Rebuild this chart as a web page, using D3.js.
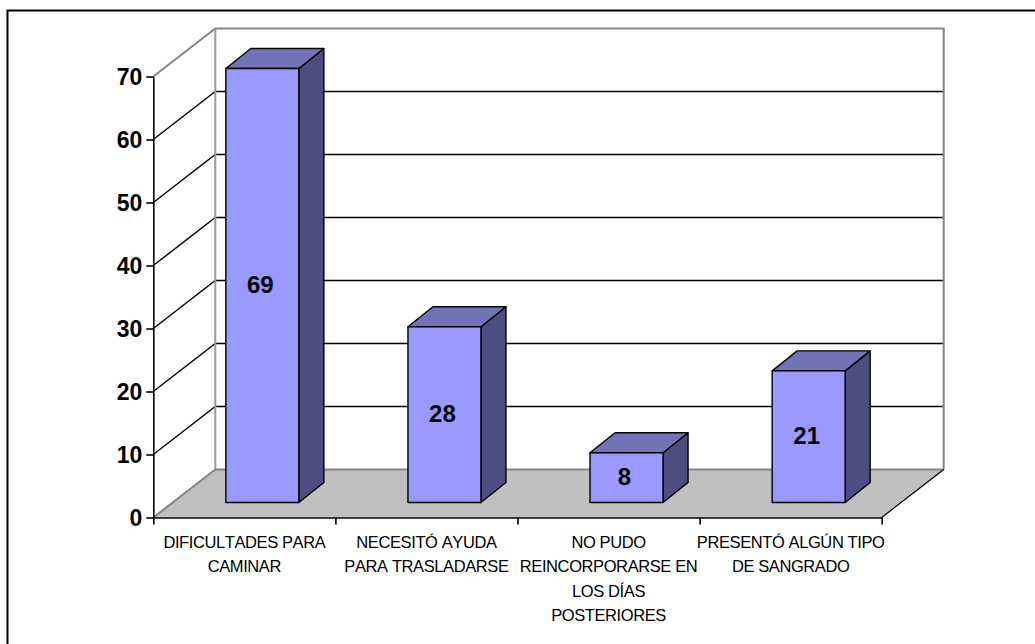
<!DOCTYPE html>
<html>
<head>
<meta charset="utf-8">
<script src="https://cdn.jsdelivr.net/npm/d3@7/dist/d3.min.js"></script>
<style>
html,body{margin:0;padding:0;background:#fff;overflow:hidden}
svg{display:block}
text{font-family:"Liberation Sans",Arial,sans-serif;fill:#000}
</style>
</head>
<body>
<svg id="c" width="1035" height="644"></svg>
<script>
const categories = [
  ["DIFICULTADES PARA","CAMINAR"],
  ["NECESITÓ AYUDA","PARA TRASLADARSE"],
  ["NO PUDO","REINCORPORARSE EN","LOS DÍAS","POSTERIORES"],
  ["PRESENTÓ ALGÚN TIPO","DE SANGRADO"]
];
const values = [69, 28, 8, 21];
const yTicks = [0,10,20,30,40,50,60,70];

const svg = d3.select("#c");
const x = d3.scaleLinear().domain([0,4]).range([153.3,881.7]);
const y = d3.scaleLinear().domain([0,70]).range([517.5,76.5]);
const wallDx = 62, wallDy = -48;
const barInDx = 18, barInDy = -15, barDx = 25, barDy = -20, barW = 73;

// frame
svg.append("path").attr("d","M7.5,644V10.5H1035").attr("fill","none").attr("stroke","#000").attr("stroke-width",2);

// side and back gridlines
const grid = svg.append("g");
yTicks.slice(1,-1).forEach(t=>{
  grid.append("path")
    .attr("d",d3.line()([[x(0),y(t)],[x(0)+wallDx,y(t)+wallDy],[x(4)+wallDx,y(t)+wallDy]]))
    .attr("fill","none").attr("stroke","#000").attr("stroke-width",1.4);
});
// walls
svg.append("path")
  .attr("d",d3.line()([[x(0),y(70)],[x(0)+wallDx,y(70)+wallDy],[x(4)+wallDx,y(70)+wallDy],[x(4)+wallDx,y(0)+wallDy]]))
  .attr("fill","none").attr("stroke","#858585").attr("stroke-width",2);
svg.append("line").attr("x1",x(0)+wallDx).attr("x2",x(0)+wallDx).attr("y1",y(70)+wallDy).attr("y2",y(0)+wallDy)
  .attr("stroke","#999").attr("stroke-width",2);
// floor
svg.append("path")
  .attr("d",d3.line()([[x(0),y(0)],[x(0)+wallDx,y(0)+wallDy],[x(4)+wallDx,y(0)+wallDy],[x(4),y(0)]])+"Z")
  .attr("fill","#c0c0c0");
svg.append("path").attr("d",d3.line()([[x(0),y(0)],[x(0)+wallDx,y(0)+wallDy],[x(4)+wallDx,y(0)+wallDy]]))
  .attr("fill","none").attr("stroke","#858585").attr("stroke-width",2);
svg.append("line").attr("x1",x(4)).attr("y1",y(0)).attr("x2",x(4)+wallDx).attr("y2",y(0)+wallDy)
  .attr("stroke","#000").attr("stroke-width",1.2);

// axes
const yAxis = svg.append("g").attr("transform",`translate(${x(0)},0)`)
  .call(d3.axisLeft(y).tickValues(yTicks).tickSize(7).tickSizeOuter(0).tickPadding(4));
yAxis.selectAll("path,line").attr("stroke","#000").attr("stroke-width",1.6);
yAxis.selectAll("text").attr("font-size",23).attr("font-weight","bold").attr("font-family","Liberation Sans").attr("dy","0.36em");

const xAxis = svg.append("g").attr("transform",`translate(0,${y(0)})`)
  .call(d3.axisBottom(x).ticks(4).tickSize(7).tickSizeOuter(0).tickFormat(""));
xAxis.selectAll("path,line").attr("stroke","#000").attr("stroke-width",1.6);

// bars
const bars = svg.append("g").selectAll("g").data(values).join("g");
const cx = (d,i)=>x(i+0.5)+barInDx;
const x0 = (d,i)=>cx(d,i)-barW/2;
const base = y(0)+barInDy;
const top_ = d=>y(d)+barInDy+0.7;
const poly = fn => (d,i)=>d3.line()(fn(d,i))+"Z";
const st = s=>s.attr("stroke","#000").attr("stroke-width",1.4).attr("stroke-linejoin","round");
st(bars.append("path").attr("fill","#4d4d80").attr("d",poly((d,i)=>{
  const r=x0(d,i)+barW;
  return [[r,base],[r+barDx,base+barDy],[r+barDx,top_(d)+barDy],[r,top_(d)]];
})));
st(bars.append("path").attr("fill","#7373b8").attr("d",poly((d,i)=>{
  const l=x0(d,i), r=l+barW, t=top_(d);
  return [[l,t],[l+barDx,t+barDy],[r+barDx,t+barDy],[r,t]];
})));
st(bars.append("path").attr("fill","#9999ff").attr("d",poly((d,i)=>{
  const l=x0(d,i), r=l+barW, t=top_(d);
  return [[l,t],[r,t],[r,base],[l,base]];
})));
bars.append("text").attr("text-anchor","middle").attr("font-size",24).attr("font-weight","bold")
  .attr("x",(d,i)=>cx(d,i)-2).attr("y",d=>(top_(d)+base)/2-1).attr("dy","0.36em").text(d=>d);

// category labels
const cats = svg.append("g").selectAll("text").data(categories).join("text")
  .attr("text-anchor","middle").attr("font-size",16.5).attr("letter-spacing",-0.4).attr("fill","#000").style("font-kerning","none");
cats.each(function(lines,i){
  d3.select(this).selectAll("tspan").data(lines).join("tspan")
    .attr("x",x(i+0.5)).attr("y",(l,j)=>548+j*24.3).text(l=>l);
});
</script>
</body>
</html>
